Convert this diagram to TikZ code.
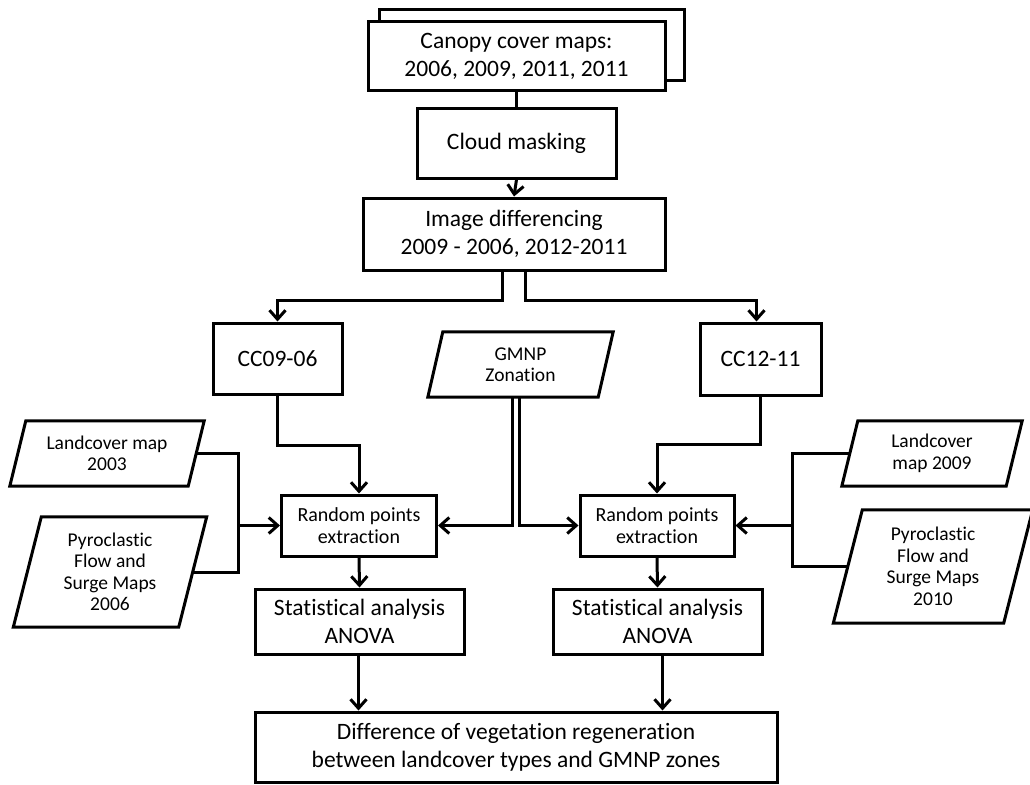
\documentclass[tikz,border=0pt]{standalone}
\usepackage{fontspec}
\setmainfont{Carlito}[Ligatures=NoCommon]
\usetikzlibrary{arrows.meta}
\tikzset{
  box/.style={draw, line width=3pt, fill=white, align=center, inner sep=0pt,
    font=\fontsize{23.5}{28}\selectfont},
  smallbox/.style={box, font=\fontsize{20}{21.5}\selectfont},
  ptext/.style={align=center, inner sep=0pt, font=\fontsize{19.5}{21.5}\selectfont},
  line/.style={line width=3pt},
  arr/.style={line width=3pt, -{Straight Barb[length=9pt,width=16pt]}},
}
% parallelogram: name, center, mid width, height, slant, text
\newcommand{\mypara}[6]{%
  \node[ptext, minimum width=#3, minimum height=#4] (#1) at (#2) {#6};
  \draw[line, line join=miter]
    ([xshift=#5/2]#1.north west) -- ([xshift=#5/2]#1.north east)
    -- ([xshift=-#5/2]#1.south east) -- ([xshift=-#5/2]#1.south west) -- cycle;
}
\begin{document}
\begin{tikzpicture}[x=1pt, y=-1pt]
\useasboundingbox (0,0) rectangle (1030,784);

% stacked documents
\node[box, minimum width=305pt, minimum height=70pt] (canback) at (531.5,45) {};
\node[box, minimum width=297pt, minimum height=68pt] (canopy) at (516.5,56)
  {Canopy cover maps:\\2006, 2009, 2011, 2011};
\node[box, minimum width=199pt, minimum height=70pt] (cloud) at (516.5,143) {Cloud masking};
\node[box, minimum width=302pt, minimum height=72pt] (diff) at (514,234)
  {Image differencing\\2009 - 2006, 2012-2011};
\node[box, minimum width=129pt, minimum height=71pt] (cc0906) at (277.5,358.5) {CC09-06};
\node[box, minimum width=121pt, minimum height=72pt] (cc1211) at (760.5,359) {CC12-11};

\mypara{gmnp}{520.5,364.5}{170pt}{65pt}{15pt}{GMNP\\Zonation}
\mypara{lc03}{107,453.5}{178pt}{65pt}{16pt}{Landcover map\\2003}
\mypara{py06}{110,572}{165pt}{110pt}{28pt}{Pyroclastic\\Flow and\\Surge Maps\\2006}
\mypara{lc09}{932,453.5}{164pt}{65pt}{16pt}{Landcover\\map 2009}
\mypara{py10}{933,566.5}{170pt}{113pt}{29pt}{Pyroclastic\\Flow and\\Surge Maps\\2010}

\node[smallbox, minimum width=155pt, minimum height=61pt] (rpL) at (359,525.5)
  {Random points\\extraction};
\node[smallbox, minimum width=154pt, minimum height=61pt] (rpR) at (657,525.5)
  {Random points\\extraction};
\node[box, minimum width=209pt, minimum height=65pt] (sL) at (359.5,621.5)
  {Statistical analysis\\ANOVA};
\node[box, minimum width=209pt, minimum height=65pt] (sR) at (657.5,621.5)
  {Statistical analysis\\ANOVA};
\node[box, minimum width=522pt, minimum height=70pt] (final) at (516,747)
  {Difference of vegetation regeneration\\between landcover types and GMNP zones};

\coordinate (jL) at (238,525.5);
\coordinate (jR) at (792,525.5);

% connectors
\draw[line] (canopy.south) -- (cloud.north);
\draw[arr] (cloud.south) -- (diff.north);
\draw[arr] ([xshift=-12pt]diff.south) -- ++(0,29) -| (cc0906.north);
\draw[arr] ([xshift=11pt]diff.south) -- ++(0,29) -| ([xshift=-4pt]cc1211.north);
\draw[arr] (cc0906.south) -- ++(0,50) -| (rpL.north);
\draw[arr] (cc1211.south) -- ++(0,48) -| (rpR.north);
\draw[arr] ([xshift=-8pt]gmnp.south) |- (rpL.east);
\draw[arr] ([xshift=-1.5pt]gmnp.south) |- (rpR.west);
\draw[line] (lc03.east) -| (jL) |- (py06.east);
\draw[arr] (jL) -- (rpL.west);
\draw[line] (lc09.west) -| (jR) |- (py10.west);
\draw[arr] (jR) -- (rpR.east);
\draw[arr] (rpL.south) -- (sL.north);
\draw[arr] (rpR.south) -- (sR.north);
\draw[arr] ([xshift=-1pt]sL.south) -- ([xshift=-1pt]sL.south |- final.north);
\draw[arr] ([xshift=5pt]sR.south) -- ([xshift=5pt]sR.south |- final.north);
\end{tikzpicture}
\end{document}
